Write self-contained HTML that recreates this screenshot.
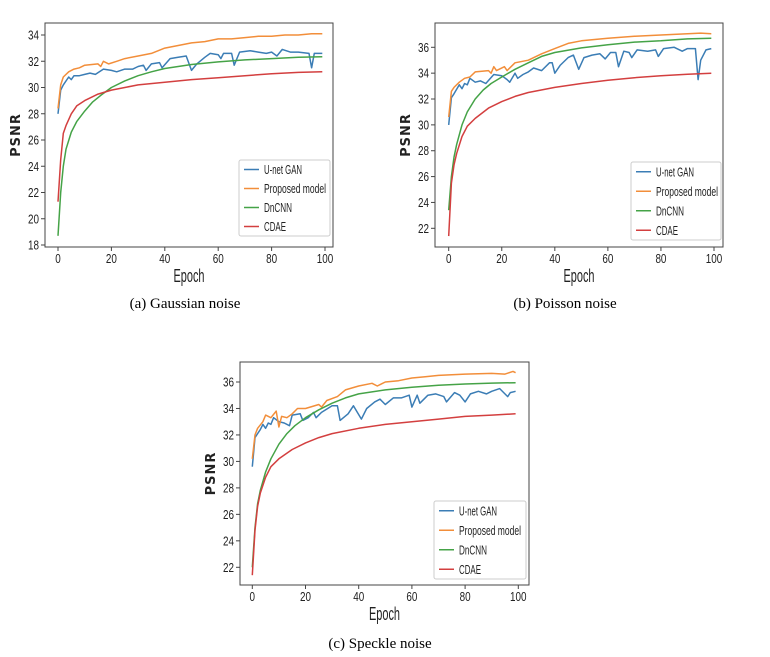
<!DOCTYPE html>
<html><head><meta charset="utf-8">
<style>
html,body{margin:0;padding:0;background:#fff;width:770px;height:657px;overflow:hidden}
svg{display:block}
.tick{font-family:"Liberation Sans",sans-serif;font-size:12.5px;fill:#222}
.xl{font-family:"Liberation Sans",sans-serif;font-size:18px;fill:#222}
.yl{font-family:"DejaVu Sans","Liberation Sans",sans-serif;font-size:13px;font-weight:bold;fill:#222;letter-spacing:1px}
.leg{font-family:"Liberation Sans",sans-serif;font-size:12.5px;fill:#222}
.cap{font-family:"Liberation Serif",serif;font-size:15px;fill:#000}
</style></head>
<body>
<svg id="fig" width="770" height="657" viewBox="0 0 770 657"></svg>
<script>
const seriesNames=["U-net GAN","Proposed model","DnCNN","CDAE"];
const seriesColors=["#3b7db5","#f28e3a","#45a347","#d33f3f"];
const legendWidths=[38,62,28,22];
const xTicks=[0,20,40,60,80,100];
const yTicksA=[18,20,22,24,26,28,30,32,34];
const yTicksB=[22,24,26,28,30,32,34,36];
const yTicksC=[22,24,26,28,30,32,34,36];
// [epoch, psnr] pairs
const gUnetGAN=[[0,28],[1,29.8],[2,30.2],[4,30.8],[5,30.6],[6,30.9],[8,30.9],[10,31.0],[12,31.1],[14,31.0],[17,31.4],[20,31.3],[22,31.2],[25,31.4],[28,31.4],[30,31.6],[32,31.7],[33,31.3],[35,31.8],[38,31.9],[39,31.5],[42,32.2],[45,32.3],[48,32.4],[50,31.3],[52,31.8],[55,32.3],[57,32.6],[60,32.5],[61,32.2],[62,32.6],[65,32.6],[66,31.7],[68,32.7],[72,32.8],[75,32.7],[78,32.6],[80,32.7],[82,32.4],[84,32.9],[87,32.7],[90,32.7],[94,32.6],[95,31.5],[96,32.6],[99,32.6]];
const gProposed=[[0,28.4],[1,30.2],[2,30.8],[4,31.2],[6,31.4],[8,31.5],[10,31.7],[15,31.8],[16,31.6],[17,32.0],[19,31.8],[22,32.0],[25,32.2],[30,32.4],[35,32.6],[40,33.0],[45,33.2],[50,33.4],[55,33.5],[60,33.7],[65,33.7],[70,33.8],[75,33.9],[80,33.9],[85,34.0],[90,34.0],[95,34.1],[99,34.1]];
const gDnCNN=[[0,18.7],[1,22],[2,24],[3,25.3],[5,26.6],[7,27.4],[10,28.2],[13,28.9],[16,29.4],[20,30.0],[25,30.5],[30,30.9],[35,31.2],[40,31.45],[50,31.75],[60,31.95],[70,32.1],[80,32.2],[90,32.3],[99,32.35]];
const gCDAE=[[0,21.3],[1,24.5],[2,26.5],[3,27.1],[5,28.0],[7,28.6],[10,29.0],[15,29.5],[20,29.8],[25,30.0],[30,30.2],[40,30.4],[50,30.6],[60,30.75],[70,30.9],[80,31.05],[90,31.15],[99,31.2]];
const pUnetGAN=[[0,30],[1,32.1],[2,32.4],[4,33.1],[5,32.8],[6,33.2],[7,33.1],[8,33.6],[10,33.3],[12,33.4],[14,33.2],[17,33.9],[20,33.8],[22,33.5],[23,33.3],[25,34.0],[26,33.6],[28,33.9],[30,34.1],[32,34.4],[35,34.2],[38,34.8],[39,34.8],[40,34.0],[42,34.6],[45,35.2],[47,35.4],[49,34.3],[51,35.2],[54,35.4],[57,35.5],[59,35.1],[61,35.6],[63,35.6],[64,34.5],[66,35.7],[68,35.6],[69,35.2],[71,35.8],[75,35.7],[78,35.8],[79,35.3],[81,35.9],[85,36.0],[88,35.7],[90,35.9],[93,35.9],[94,33.5],[95,35.0],[97,35.8],[99,35.9]];
const pProposed=[[0,30.6],[1,32.6],[2,32.9],[4,33.3],[6,33.6],[8,33.7],[10,34.1],[15,34.2],[16,34.0],[17,34.5],[18,34.2],[21,34.5],[22,34.2],[25,34.8],[30,35.0],[35,35.5],[40,35.9],[45,36.3],[50,36.5],[55,36.6],[60,36.7],[70,36.85],[80,36.95],[90,37.05],[95,37.1],[99,37.05]];
const pDnCNN=[[0,23.4],[1,26],[2,27.5],[3,28.5],[5,30.0],[7,31.0],[10,32.0],[13,32.7],[16,33.2],[20,33.7],[25,34.3],[30,34.8],[35,35.3],[40,35.6],[50,35.95],[60,36.2],[70,36.4],[80,36.5],[90,36.65],[99,36.7]];
const pCDAE=[[0,21.4],[1,25.5],[2,26.9],[3,27.8],[5,29.1],[7,29.9],[10,30.5],[15,31.3],[20,31.8],[25,32.2],[30,32.5],[40,32.9],[50,33.2],[60,33.45],[70,33.65],[80,33.8],[90,33.92],[99,34.0]];
const sUnetGAN=[[0,29.6],[1,31.8],[2,32.1],[3,32.4],[4,32.8],[5,32.5],[6,32.9],[7,32.8],[8,33.3],[10,33.0],[12,32.9],[14,32.7],[15,33.5],[18,33.6],[19,33.1],[21,33.3],[23,33.7],[24,33.3],[26,33.7],[30,34.2],[32,34.2],[33,33.1],[36,33.6],[38,34.2],[41,33.2],[43,34.0],[46,34.5],[48,34.7],[50,34.3],[53,34.8],[56,34.8],[59,35.0],[60,34.1],[62,35.0],[63,34.4],[66,35.0],[69,35.1],[72,34.9],[73,34.5],[76,35.2],[78,35.0],[80,34.5],[82,35.1],[85,35.3],[88,35.1],[90,35.3],[93,35.5],[96,34.9],[97,35.2],[99,35.3]];
const sProposed=[[0,30.2],[1,32.0],[2,32.5],[4,33.0],[5,33.5],[7,33.3],[9,33.8],[10,32.6],[11,33.4],[13,33.3],[15,33.6],[17,34.0],[20,34.0],[25,34.3],[26,34.1],[28,34.6],[32,34.9],[35,35.4],[40,35.7],[45,35.9],[47,35.7],[50,36.0],[55,36.1],[60,36.3],[65,36.4],[70,36.5],[80,36.6],[90,36.65],[95,36.6],[98,36.8],[99,36.7]];
const sDnCNN=[[0,22],[1,25],[2,26.8],[3,27.8],[5,29.2],[7,30.2],[10,31.3],[13,32.1],[16,32.7],[20,33.3],[25,33.9],[30,34.4],[35,34.8],[40,35.1],[50,35.4],[60,35.6],[70,35.75],[80,35.85],[90,35.92],[99,35.95]];
const sCDAE=[[0,21.4],[1,24.8],[2,26.6],[3,27.6],[5,28.8],[7,29.6],[10,30.2],[15,30.9],[20,31.4],[25,31.8],[30,32.1],[40,32.5],[50,32.8],[60,33.0],[70,33.2],[80,33.4],[90,33.5],[99,33.6]];

const NS="http://www.w3.org/2000/svg";
const svg=document.getElementById('fig');
function mk(tag,attrs,parent,text){const e=document.createElementNS(NS,tag);for(const k in attrs)e.setAttribute(k,attrs[k]);if(text!==undefined)e.textContent=text;(parent||svg).appendChild(e);return e;}

const charts=[
 {id:"gaussian",box:[45,23,333,247],x0:58,x100:325,yA:[34,35],yB:[18,245],ticks:yTicksA,series:[gUnetGAN,gProposed,gDnCNN,gCDAE],leg:[239,160,330,236],cap:"(a) Gaussian noise",capXY:[185,308]},
 {id:"poisson",box:[435,23,723,247],x0:448.7,x100:714,yA:[36,47.3],yB:[22,228.3],ticks:yTicksB,series:[pUnetGAN,pProposed,pDnCNN,pCDAE],leg:[631,162,721,240],cap:"(b) Poisson noise",capXY:[565,308]},
 {id:"speckle",box:[240,362,529,585],x0:252.3,x100:518.3,yA:[36,382],yB:[22,567.3],ticks:yTicksC,series:[sUnetGAN,sProposed,sDnCNN,sCDAE],leg:[434,501,526,579],cap:"(c) Speckle noise",capXY:[380,648]}
];
charts.forEach(c=>{
 const g=mk('g',{});
 
 
 const xs=v=>c.x0+(c.x100-c.x0)*v/100;
 const ys=v=>c.yA[1]+(c.yB[1]-c.yA[1])*(v-c.yA[0])/(c.yB[0]-c.yA[0]);
 const [l,t,r,b]=c.box;
 const frame=mk('rect',{x:l,y:t,width:r-l,height:b-t,fill:'none',stroke:'#444','stroke-width':1},g);
 
 
 xTicks.forEach(v=>{
  const x=xs(v);
  mk('line',{x1:x,x2:x,y1:b,y2:b+4,stroke:'#444'},g);
  const tx=mk('text',{x:x,y:b+16,'text-anchor':'middle',class:'tick',textLength:String(v).length*5.5,lengthAdjust:'spacingAndGlyphs'},g,String(v));
  
  
 });
 c.ticks.forEach(v=>{
  const y=ys(v);
  mk('line',{x1:l-4,x2:l,y1:y,y2:y,stroke:'#444'},g);
  const ty=mk('text',{x:l-6,y:y+4.5,'text-anchor':'end',class:'tick',textLength:11,lengthAdjust:'spacingAndGlyphs'},g,String(v));
  
  
 });
 const xt=mk('text',{x:(l+r)/2,y:b+35,'text-anchor':'middle',class:'xl',textLength:31,lengthAdjust:'spacingAndGlyphs'},g,'Epoch');
 
 
 const yy=(t+b)/2;
 const yt=mk('text',{x:l-25,y:yy,'text-anchor':'middle',class:'yl',transform:`rotate(-90 ${l-25} ${yy})`},g,'PSNR');
 
 
 c.series.forEach((s,i)=>{
  const d=s.map((p,k)=>(k?'L':'M')+xs(p[0]).toFixed(1)+','+ys(p[1]).toFixed(1)).join('');
  const pth=mk('path',{d:d,fill:'none',stroke:seriesColors[i],'stroke-width':1.5,'stroke-linejoin':'round'},g);
  
  
 });
 const [ll,lt,lr,lb]=c.leg;
 const lg=mk('g',{},g);
 
 
 mk('rect',{x:ll,y:lt,width:lr-ll,height:lb-lt,fill:'#fff',stroke:'#ccc',rx:2},lg);
 const step=(lb-lt)/4;
 seriesNames.forEach((n,i)=>{
  const y=lt+step*(i+0.5);
  mk('line',{x1:ll+5,x2:ll+20,y1:y,y2:y,stroke:seriesColors[i],'stroke-width':1.5},lg);
  const lt2=mk('text',{x:ll+25,y:y+4.5,class:'leg',textLength:legendWidths[i],lengthAdjust:'spacingAndGlyphs'},lg,n);
  
  
 });
 const cp=mk('text',{x:c.capXY[0],y:c.capXY[1],'text-anchor':'middle',class:'cap'},svg,c.cap);
 
 
});
</script>
</body></html>
